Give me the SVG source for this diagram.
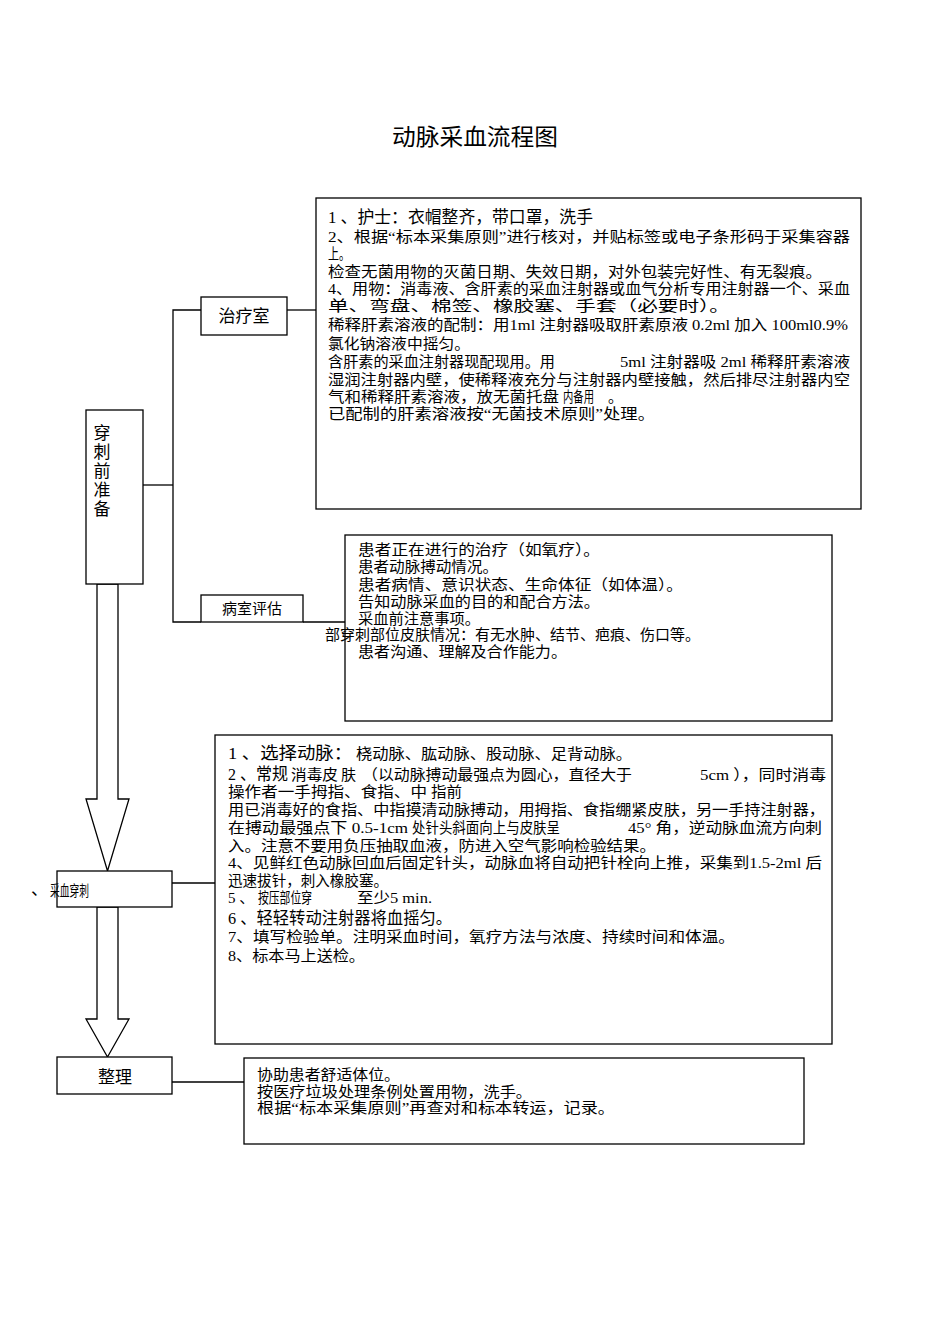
<svg xmlns="http://www.w3.org/2000/svg" width="950" height="1344" viewBox="0 0 950 1344">
<style>
rect.b{fill:#fff;stroke:#000;stroke-width:1.3}
.ln{fill:none;stroke:#000;stroke-width:1.3}
text{font-family:"Liberation Serif","Noto Sans CJK SC",serif;font-size:15px;fill:#000}
.big{font-size:17px}
.lab{font-size:17px}
.title{font-size:23px}
</style>
<rect width="950" height="1344" fill="#fff"/>
<text class="title" x="475" y="145" text-anchor="middle" textLength="166" lengthAdjust="spacingAndGlyphs">动脉采血流程图</text>

<g id="connectors">
<polyline class="ln" points="143,485 173,485"/>
<polyline class="ln" points="201,310 173,310 173,622 201,622"/>
<polyline class="ln" points="287,310 316,310"/>
<polyline class="ln" points="303,622 345,622"/>
<polyline class="ln" points="172,883 215,883"/>
<polyline class="ln" points="172,1082 244,1082"/>
<polygon class="ln" points="97,584 118,584 118,799 129,799 107.5,871 86,799 97,799" fill="#fff"/>
<polygon class="ln" points="97,907 118,907 118,1019 129,1019 107.5,1057 86,1019 97,1019" fill="#fff"/>
</g>

<g id="n-prep">
<rect class="b" x="86" y="410" width="57" height="174"/>
<text class="lab" x="102" y="439" text-anchor="middle">穿</text>
<text class="lab" x="102" y="458" text-anchor="middle">刺</text>
<text class="lab" x="102" y="477" text-anchor="middle">前</text>
<text class="lab" x="102" y="496" text-anchor="middle">准</text>
<text class="lab" x="102" y="515" text-anchor="middle">备</text>
</g>

<g id="n-room">
<rect class="b" x="201" y="297" width="86" height="38"/>
<text class="lab" x="244" y="322" text-anchor="middle">治疗室</text>
</g>

<g id="n-ward">
<rect class="b" x="201" y="595" width="102" height="27"/>
<text x="252" y="614" text-anchor="middle" font-size="16">病室评估</text>
</g>

<g id="n-box1">
<rect class="b" x="316" y="198" width="545" height="311"/>
<text class="big" x="328" y="223" textLength="265" lengthAdjust="spacingAndGlyphs">1 、护士：衣帽整齐，带口罩，洗手</text>
<text x="328" y="242" textLength="522" lengthAdjust="spacingAndGlyphs">2、根据“标本采集原则”进行核对，并贴标签或电子条形码于采集容器</text>
<text x="328" y="259" textLength="22" lengthAdjust="spacingAndGlyphs">上。</text>
<text x="328" y="277" textLength="494" lengthAdjust="spacingAndGlyphs">检查无菌用物的灭菌日期、失效日期，对外包装完好性、有无裂痕。</text>
<text x="328" y="294" textLength="522" lengthAdjust="spacingAndGlyphs">4、用物：消毒液、含肝素的采血注射器或血气分析专用注射器一个、采血</text>
<text x="328" y="311" textLength="402" lengthAdjust="spacingAndGlyphs">单、弯盘、棉签、橡胶塞、手套（必要时）。</text>
<text x="328" y="330" textLength="520" lengthAdjust="spacingAndGlyphs">稀释肝素溶液的配制：用1ml 注射器吸取肝素原液 0.2ml 加入 100ml0.9%</text>
<text x="328" y="349" textLength="142" lengthAdjust="spacingAndGlyphs">氯化钠溶液中摇匀。</text>
<text x="328" y="367" textLength="227" lengthAdjust="spacingAndGlyphs">含肝素的采血注射器现配现用。用</text>
<text x="620" y="367" textLength="230" lengthAdjust="spacingAndGlyphs">5ml 注射器吸 2ml 稀释肝素溶液</text>
<text x="328" y="385" textLength="522" lengthAdjust="spacingAndGlyphs">湿润注射器内壁，使稀释液充分与注射器内壁接触，然后排尽注射器内空</text>
<text x="328" y="402" textLength="231" lengthAdjust="spacingAndGlyphs">气和稀释肝素溶液，放无菌托盘</text>
<text x="563" y="402" textLength="31" lengthAdjust="spacingAndGlyphs">内备用</text>
<text x="608" y="402">。</text>
<text x="328" y="419" textLength="327" lengthAdjust="spacingAndGlyphs">已配制的肝素溶液按“无菌技术原则”处理。</text>
</g>

<g id="n-box2">
<rect class="b" x="345" y="535" width="487" height="186"/>
<text x="358" y="555" textLength="242" lengthAdjust="spacingAndGlyphs">患者正在进行的治疗（如氧疗）。</text>
<text x="358" y="572" textLength="140" lengthAdjust="spacingAndGlyphs">患者动脉搏动情况。</text>
<text x="358" y="590" textLength="325" lengthAdjust="spacingAndGlyphs">患者病情、意识状态、生命体征（如体温）。</text>
<text x="358" y="607" textLength="242" lengthAdjust="spacingAndGlyphs">告知动脉采血的目的和配合方法。</text>
<text x="358" y="624" textLength="122" lengthAdjust="spacingAndGlyphs">采血前注意事项。</text>
<text x="325" y="640" textLength="375" lengthAdjust="spacingAndGlyphs">部穿刺部位皮肤情况：有无水肿、结节、疤痕、伤口等。</text>
<text x="358" y="657" textLength="209" lengthAdjust="spacingAndGlyphs">患者沟通、理解及合作能力。</text>
</g>

<g id="n-puncture">
<rect class="b" x="57" y="871" width="115" height="36"/>
<text class="lab" x="31" y="895">、</text>
<text x="50" y="896" font-size="19" textLength="39" lengthAdjust="spacingAndGlyphs">采血穿刺</text>
</g>

<g id="n-box3">
<rect class="b" x="215" y="735" width="617" height="309"/>
<text class="big" x="228" y="759" textLength="124" lengthAdjust="spacingAndGlyphs">1 、选择动脉：</text>
<text x="356" y="759" textLength="276" lengthAdjust="spacingAndGlyphs">桡动脉、肱动脉、股动脉、足背动脉。</text>
<text class="big" x="228" y="780" textLength="60" lengthAdjust="spacingAndGlyphs">2 、常规</text>
<text x="291" y="780" textLength="47" lengthAdjust="spacingAndGlyphs">消毒皮</text>
<text x="341" y="780">肤</text>
<text x="362" y="780" textLength="270" lengthAdjust="spacingAndGlyphs">（以动脉搏动最强点为圆心，直径大于</text>
<text x="700" y="780" textLength="126" lengthAdjust="spacingAndGlyphs">5cm ），同时消毒</text>
<text x="228" y="797" textLength="199" lengthAdjust="spacingAndGlyphs">操作者一手拇指、食指、中</text>
<text x="431" y="797" textLength="31" lengthAdjust="spacingAndGlyphs">指前</text>
<text x="228" y="815" textLength="597" lengthAdjust="spacingAndGlyphs">用已消毒好的食指、中指摸清动脉搏动，用拇指、食指绷紧皮肤，另一手持注射器，</text>
<text x="228" y="833" textLength="180" lengthAdjust="spacingAndGlyphs">在搏动最强点下 0.5-1cm</text>
<text x="412" y="833" textLength="148" lengthAdjust="spacingAndGlyphs">处针头斜面向上与皮肤呈</text>
<text x="628" y="833" textLength="194" lengthAdjust="spacingAndGlyphs">45° 角，逆动脉血流方向刺</text>
<text x="228" y="851" textLength="428" lengthAdjust="spacingAndGlyphs">入。注意不要用负压抽取血液，防进入空气影响检验结果。</text>
<text x="228" y="868" textLength="594" lengthAdjust="spacingAndGlyphs">4、见鲜红色动脉回血后固定针头，动脉血将自动把针栓向上推，采集到1.5-2ml 后</text>
<text x="228" y="886" textLength="160" lengthAdjust="spacingAndGlyphs">迅速拔针，刺入橡胶塞。</text>
<text x="228" y="903">5 、</text>
<text x="258" y="903" textLength="54" lengthAdjust="spacingAndGlyphs">按压部位穿</text>
<text x="357" y="903" textLength="75" lengthAdjust="spacingAndGlyphs">至少5 min.</text>
<text class="big" x="228" y="924" textLength="224" lengthAdjust="spacingAndGlyphs">6 、轻轻转动注射器将血摇匀。</text>
<text x="228" y="942" textLength="507" lengthAdjust="spacingAndGlyphs">7、填写检验单。注明采血时间，氧疗方法与浓度、持续时间和体温。</text>
<text x="228" y="961" textLength="137" lengthAdjust="spacingAndGlyphs">8、标本马上送检。</text>
</g>

<g id="n-tidy">
<rect class="b" x="57" y="1057" width="115" height="37"/>
<text class="lab" x="115" y="1083" text-anchor="middle">整理</text>
</g>

<g id="n-box4">
<rect class="b" x="244" y="1058" width="560" height="86"/>
<text x="257" y="1080" textLength="143" lengthAdjust="spacingAndGlyphs">协助患者舒适体位。</text>
<text x="257" y="1097" textLength="275" lengthAdjust="spacingAndGlyphs">按医疗垃圾处理条例处置用物，洗手。</text>
<text x="257" y="1113" textLength="358" lengthAdjust="spacingAndGlyphs">根据“标本采集原则”再查对和标本转运，记录。</text>
</g>
</svg>
